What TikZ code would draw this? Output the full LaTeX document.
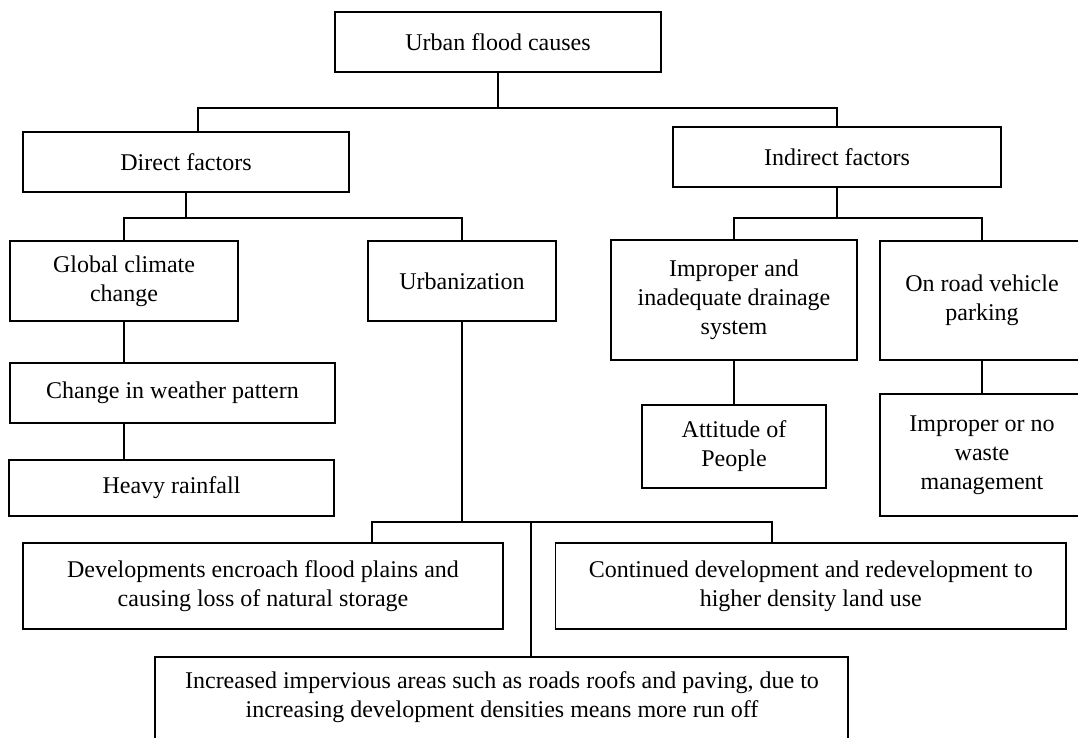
\documentclass[tikz,border=0pt]{standalone}
\usepackage{fontspec}
\setmainfont{Liberation Serif}
\begin{document}
\begin{tikzpicture}[x=1pt,y=-1pt,
  box/.style={draw,line width=1.4pt,rectangle,inner sep=0pt,align=center,
    font=\fontsize{24}{29}\selectfont},
  txt/.style={inner sep=0pt,align=center,font=\fontsize{24}{29}\selectfont},
  conn/.style={line width=1.4pt}]
\useasboundingbox (0,0) rectangle (1078,738);
\clip (0,0) rectangle (1078,738);
\fill[white] (0,0) rectangle (1078,738);
% boxes
\node[box,minimum width=326,minimum height=60] (root) at (498,42) {Urban flood causes};
\node[box,minimum width=326,minimum height=60] (direct) at (186,162) {Direct factors};
\node[box,minimum width=328,minimum height=60] (indirect) at (837,157) {Indirect factors};
\node[box,minimum width=228,minimum height=80] (global) at (124,281) {Global climate\\change};
\node[box,minimum width=188,minimum height=80] (urban) at (462,281) {Urbanization};
\node[box,minimum width=246,minimum height=120] (drain) at (734,300) {Improper and\\inadequate drainage\\system};
\node[box,minimum width=204,minimum height=119] (onroad) at (982,300.5) {On road vehicle\\parking};
\node[box,minimum width=325,minimum height=60] (weather) at (172.5,393) {Change in weather pattern};
\node[box,minimum width=325,minimum height=56] (heavy) at (171.5,488) {Heavy rainfall};
\node[box,minimum width=184,minimum height=83] (attitude) at (734,446.5) {Attitude of\\People};
\node[box,minimum width=204,minimum height=122] (waste) at (982,455) {Improper or no\\waste\\management};
\node[box,minimum width=480,minimum height=86] (devenc) at (263,586) {Developments encroach flood plains and\\causing loss of natural storage};
\node[box,minimum width=510.5,minimum height=86] (contin) at (810.75,586) {Continued development and redevelopment to\\higher density land use};
\node[box,minimum width=693,minimum height=120] (incr) at (501.5,717) {};
\node[txt] (incrtext) at (502,697) {Increased impervious areas such as roads roofs and paving, due to\\increasing development densities means more run off};
% connectors
\draw[conn] (root.south) -- (root.south |- 0,108);
\draw[conn] (198,0 |- direct.north) |- (indirect.north |- 0,108) -- (indirect.north);
\draw[conn] (direct.south) -- (direct.south |- 0,218);
\draw[conn] (global.north) |- (urban.north |- 0,218) -- (urban.north);
\draw[conn] (indirect.south) -- (indirect.south |- 0,218);
\draw[conn] (drain.north) |- (onroad.north |- 0,218) -- (onroad.north);
\draw[conn] (global.south) -- (global.south |- weather.north);
\draw[conn] (global.south |- weather.south) -- (global.south |- heavy.north);
\draw[conn] (urban.south) -- (urban.south |- 0,522);
\draw[conn] (372,0 |- devenc.north) |- (772,522) -- (772,0 |- contin.north);
\draw[conn] (531,522) -- (531,0 |- incr.north);
\draw[conn] (drain.south) -- (attitude.north);
\draw[conn] (onroad.south) -- (waste.north);
\end{tikzpicture}
\end{document}
